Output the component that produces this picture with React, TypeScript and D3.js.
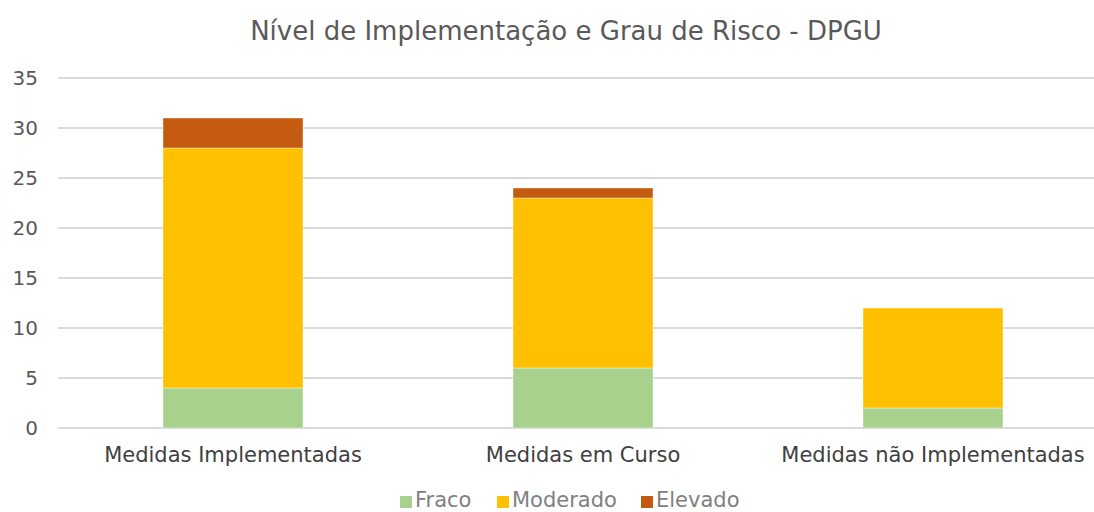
import { useEffect, useRef } from "react";
import * as d3 from "d3";

const categories = [
  "Medidas Implementadas",
  "Medidas em Curso",
  "Medidas não Implementadas",
];
const seriesNames = ["Fraco", "Moderado", "Elevado"];
const fraco = [4, 6, 2];
const moderado = [24, 17, 10];
const elevado = [3, 1, 0];
const colors = ["#A9D18E", "#FFC000", "#C55A11"];
const yTicks = [0, 5, 10, 15, 20, 25, 30, 35];

function App() {
  const ref = useRef<SVGSVGElement>(null);

  useEffect(() => {
    document.body.style.margin = "0";
    const width = 1094;
    const height = 512;
    const svg = d3.select(ref.current);
    svg.selectAll("*").remove();
    svg.attr("width", width).attr("height", height);

    const font = "DejaVu Sans, sans-serif";

    const x = d3.scaleBand().domain(categories).range([58, 1108]).padding(0);
    const y = d3.scaleLinear().domain([0, 35]).range([428, 78]);
    const barW = x.bandwidth() * 0.4;

    svg
      .append("text")
      .attr("x", 566)
      .attr("y", 40)
      .attr("text-anchor", "middle")
      .attr("font-family", font)
      .attr("font-size", 26)
      .attr("fill", "#595959")
      .text("Nível de Implementação e Grau de Risco - DPGU");

    // gridlines + y labels
    const grid = svg.append("g");
    grid
      .selectAll("line")
      .data(yTicks)
      .enter()
      .append("line")
      .attr("x1", 58)
      .attr("x2", width)
      .attr("y1", (d) => y(d))
      .attr("y2", (d) => y(d))
      .attr("stroke", "#d9d9d9")
      .attr("stroke-width", 2);
    grid
      .selectAll("text")
      .data(yTicks)
      .enter()
      .append("text")
      .attr("x", 38)
      .attr("y", (d) => y(d))
      .attr("dy", "0.35em")
      .attr("text-anchor", "end")
      .attr("font-family", font)
      .attr("font-size", 20)
      .attr("fill", "#595959")
      .text((d) => d);

    const table = categories.map((c, i) => ({
      cat: c,
      Fraco: fraco[i],
      Moderado: moderado[i],
      Elevado: elevado[i],
    }));
    const stacked = d3.stack<any>().keys(seriesNames)(table);

    stacked.forEach((layer, li) => {
      svg
        .append("g")
        .selectAll("rect")
        .data(layer.filter((d) => d[1] - d[0] > 0))
        .enter()
        .append("rect")
        .attr("x", (d) => x(d.data.cat)! + (x.bandwidth() - barW) / 2)
        .attr("y", (d) => y(d[1]))
        .attr("width", barW)
        .attr("height", (d) => y(d[0]) - y(d[1]))
        .attr("fill", colors[li])
        .attr("stroke", "#fff")
        .attr("stroke-opacity", 0.4)
        .attr("stroke-width", 1);
    });

    // category labels
    svg
      .append("g")
      .selectAll("text")
      .data(categories)
      .enter()
      .append("text")
      .attr("x", (d) => x(d)! + x.bandwidth() / 2)
      .attr("y", 462)
      .attr("text-anchor", "middle")
      .attr("font-family", font)
      .attr("font-size", 21)
      .attr("fill", "#404040")
      .text((d) => d);

    // legend
    const legendX = [400, 497, 641];
    const lg = svg.append("g");
    seriesNames.forEach((s, i) => {
      lg.append("rect")
        .attr("x", legendX[i])
        .attr("y", 496)
        .attr("width", 12)
        .attr("height", 12)
        .attr("fill", colors[i]);
      lg.append("text")
        .attr("x", legendX[i] + 15)
        .attr("y", 507)
        .attr("font-family", font)
        .attr("font-size", 21)
        .attr("fill", "#808080")
        .text(s);
    });
  }, []);

  return <svg ref={ref} style={{ display: "block" }}></svg>;
}

export default App;
